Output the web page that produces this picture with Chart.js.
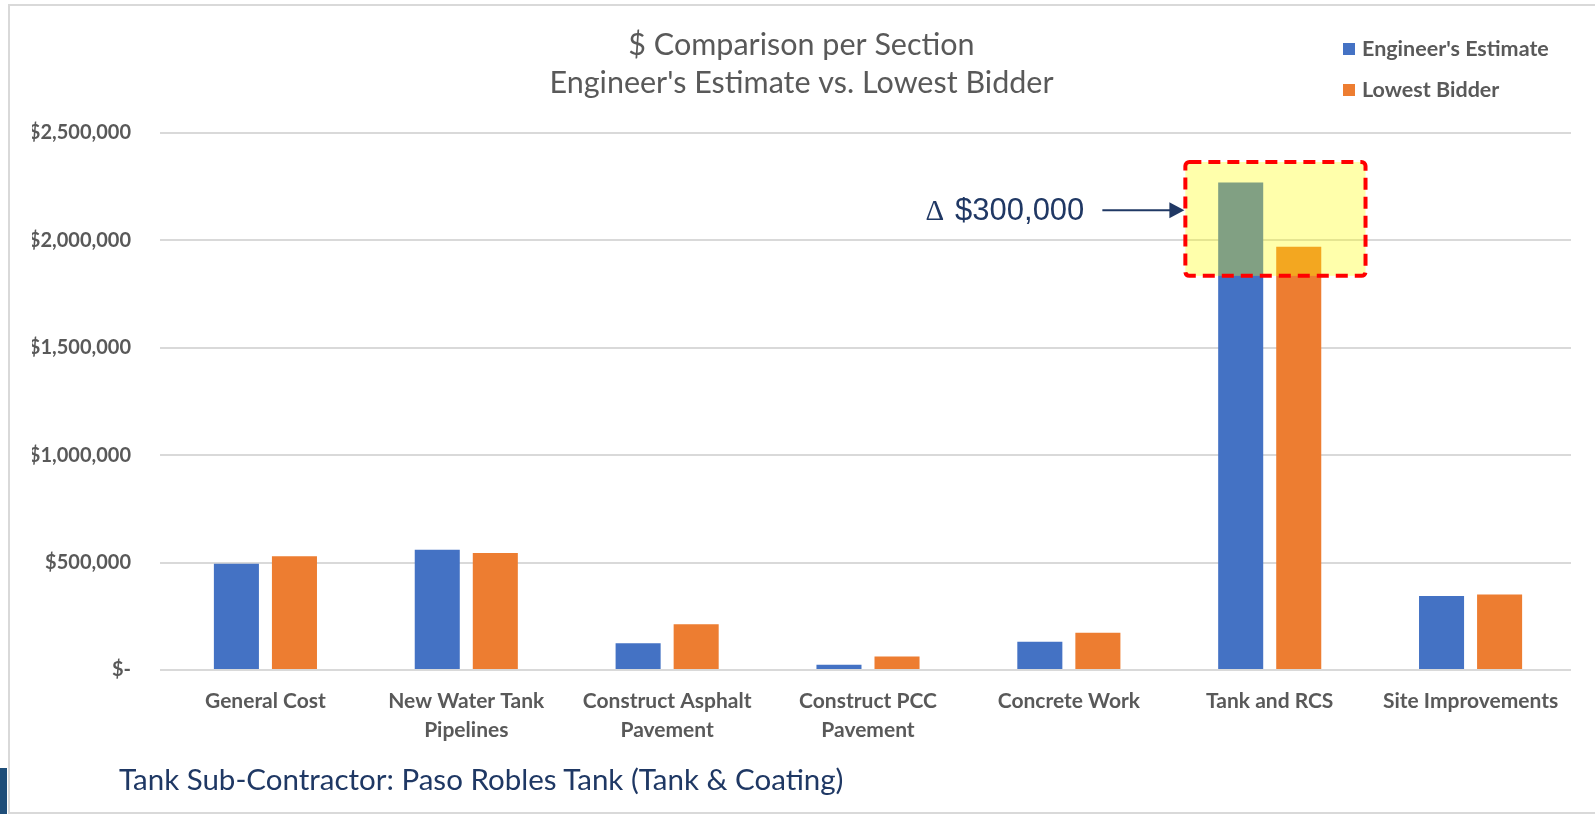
<!DOCTYPE html>
<html>
<head>
<meta charset="utf-8">
<script src="https://cdn.jsdelivr.net/npm/chart.js@4"></script>
<style>
  html, body { margin: 0; padding: 0; background: #fff; overflow: hidden; }
  #wrap { position: relative; width: 1595px; height: 814px; }
  #frame { position: absolute; left: 8px; top: 4px; width: 1620px; height: 806px;
           border: 2px solid #d9d9d9; border-right: none; }
  #tab { position: absolute; left: 0; top: 768px; width: 7px; height: 46px; background: #1f4e79; }
  #note { position: absolute; left: 119px; top: 761px; font-family: Lato, sans-serif;
          font-size: 29.5px; color: #1f3864; white-space: nowrap; }
  canvas { position: absolute; left: 0; top: 0; }
</style>
</head>
<body>
<div id="wrap">
  <div id="frame"></div>
  <div id="tab"></div>
  <canvas id="costChart" width="1595" height="814"></canvas>
  <div id="note">Tank Sub-Contractor: Paso Robles Tank (Tank &amp; Coating)</div>
</div>
<script>
const categories = [
  ['General Cost'],
  ['New Water Tank', 'Pipelines'],
  ['Construct Asphalt', 'Pavement'],
  ['Construct PCC', 'Pavement'],
  ['Concrete Work'],
  ['Tank and RCS'],
  ['Site Improvements']
];
const engineerEstimate = [495000, 560000, 125000, 25000, 131000, 2270000, 345000];
const lowestBidder = [530000, 545000, 213000, 63000, 173000, 1970000, 351000];
const yTickLabels = ['$-', '$500,000', '$1,000,000', '$1,500,000', '$2,000,000', '$2,500,000'];

// highlighted section and the callout
const highlightIndex = 5;
const highlightRange = [1835000, 2365000];
const arrowValue = 2140000;
const deltaLabel = '$300,000';

const labelGrey = '#595959';

const highlightPlugin = {
  id: 'highlight',
  afterDatasetsDraw(chart) {
    const { ctx, scales: { x, y } } = chart;
    const cw = x.width / categories.length;
    const cx = x.getPixelForValue(highlightIndex);
    const left = cx - 0.42 * cw;
    const right = cx + 0.477 * cw;
    const top = y.getPixelForValue(highlightRange[1]);
    const bottom = y.getPixelForValue(highlightRange[0]);

    ctx.save();
    ctx.fillStyle = 'rgba(255, 255, 0, 0.33)';
    ctx.fillRect(left, top, right - left, bottom - top);
    ctx.beginPath();
    ctx.roundRect(left, top, right - left, bottom - top, 4);
    ctx.setLineDash([12, 7]);
    ctx.lineWidth = 4;
    ctx.strokeStyle = '#ff0000';
    ctx.stroke();
    ctx.setLineDash([]);

    // arrow
    const ay = y.getPixelForValue(arrowValue);
    const tip = left - 1;
    ctx.strokeStyle = '#203864';
    ctx.fillStyle = '#203864';
    ctx.lineWidth = 2;
    ctx.beginPath();
    ctx.moveTo(tip - 82, ay);
    ctx.lineTo(tip - 14, ay);
    ctx.stroke();
    ctx.beginPath();
    ctx.moveTo(tip, ay);
    ctx.lineTo(tip - 15, ay - 8);
    ctx.lineTo(tip - 15, ay + 8);
    ctx.closePath();
    ctx.fill();

    // delta text
    ctx.textBaseline = 'middle';
    ctx.textAlign = 'right';
    ctx.font = '31px "Liberation Sans", Arial, sans-serif';
    const tx = tip - 100;
    ctx.fillText(deltaLabel, tx, ay + 1);
    const w = ctx.measureText(deltaLabel).width;
    ctx.font = '29px "Liberation Serif", serif';
    ctx.fillText('\u0394', tx - w - 11, ay + 2);
    ctx.restore();
  }
};

const legendPlugin = {
  id: 'cornerLegend',
  afterDraw(chart) {
    const ctx = chart.ctx;
    ctx.save();
    ctx.font = 'bold 21.5px Lato, sans-serif';
    ctx.textBaseline = 'middle';
    ctx.textAlign = 'left';
    chart.data.datasets.forEach((ds, i) => {
      const yy = 49 + i * 41;
      ctx.fillStyle = ds.backgroundColor;
      ctx.fillRect(1343, yy - 6, 12, 12);
      ctx.fillStyle = labelGrey;
      ctx.fillText(ds.label, 1362, yy);
    });
    ctx.restore();
  }
};

new Chart(document.getElementById('costChart'), {
  type: 'bar',
  data: {
    labels: categories,
    datasets: [{
      label: "Engineer's Estimate",
      data: engineerEstimate,
      backgroundColor: '#4472c4',
      categoryPercentage: 0.578,
      barPercentage: 0.776
    }, {
      label: 'Lowest Bidder',
      data: lowestBidder,
      backgroundColor: '#ed7d31',
      categoryPercentage: 0.578,
      barPercentage: 0.776
    }]
  },
  options: {
    responsive: false,
    animation: false,
    layout: { padding: { left: 32, right: 24, top: 0, bottom: 64 } },
    plugins: {
      legend: { display: false },
      tooltip: { enabled: false },
      title: {
        display: true,
        text: ['$ Comparison per Section', "Engineer's Estimate vs. Lowest Bidder"],
        color: labelGrey,
        font: { family: 'Lato, sans-serif', size: 30.5, weight: 'normal', lineHeight: 38 / 30.5 },
        padding: { top: 26, bottom: 31 }
      }
    },
    scales: {
      x: {
        grid: { display: false },
        border: { display: false },
        ticks: {
          color: labelGrey,
          font: { family: 'Lato, sans-serif', size: 21, weight: 'bold', lineHeight: 28.5 / 21 },
          padding: 9,
          maxRotation: 0,
          autoSkip: false
        },
        afterFit(scale) { scale.height = 80; }
      },
      y: {
        min: 0,
        max: 2500000,
        grid: { color: '#d9d9d9', lineWidth: 2, drawTicks: true, tickLength: 5 },
        border: { display: false },
        ticks: {
          stepSize: 500000,
          color: labelGrey,
          padding: 29,
          font: { family: 'Lato, sans-serif', size: 20, weight: 'bold' },
          callback: (value, i) => yTickLabels[i]
        },
        afterFit(scale) { scale.width = 133; }
      }
    }
  },
  plugins: [highlightPlugin, legendPlugin]
});
</script>
</body>
</html>
